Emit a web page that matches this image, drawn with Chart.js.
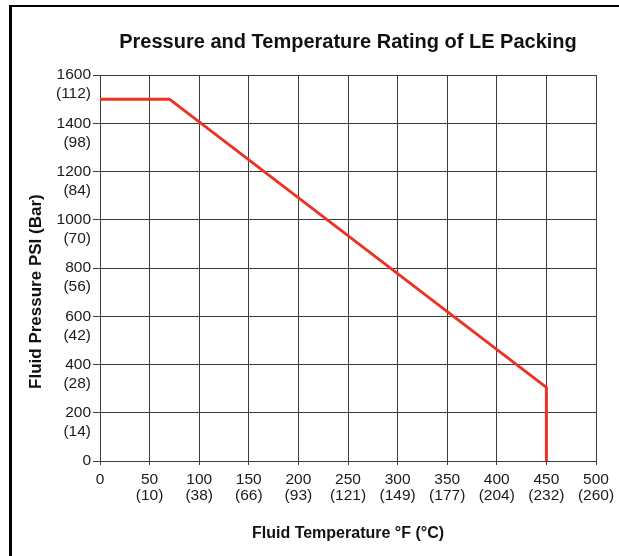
<!DOCTYPE html>
<html><head><meta charset="utf-8">
<script src="https://cdn.jsdelivr.net/npm/chart.js@4.4.1/dist/chart.umd.min.js"></script>
<style>
html,body{margin:0;padding:0;background:#fff;overflow:hidden;width:619px;height:556px;}
#frame{position:absolute;left:9px;top:5px;width:800px;height:800px;border-left:3px solid #000;border-top:2.5px solid #000;}
#wrap{position:absolute;left:0;top:0;width:619px;height:556px;}
</style></head><body>
<div id="frame"></div>
<div id="wrap"><canvas id="c" width="619" height="556"></canvas></div>
<script>
const chartTitle = 'Pressure and Temperature Rating of LE Packing';
const xAxisTitle = 'Fluid Temperature °F (°C)';
const yAxisTitle = 'Fluid Pressure PSI (Bar)';
const xTickF = [0, 50, 100, 150, 200, 250, 300, 350, 400, 450, 500];
const xTickC = ['', '(10)', '(38)', '(66)', '(93)', '(121)', '(149)', '(177)', '(204)', '(232)', '(260)'];
const yTickPSI = [0, 200, 400, 600, 800, 1000, 1200, 1400, 1600];
const yTickBar = ['', '(14)', '(28)', '(42)', '(56)', '(70)', '(84)', '(98)', '(112)'];
const ratingTempF = [0, 70, 450, 450];
const ratingPressurePSI = [1500, 1500, 305, 0];

const FAMILY = '"Liberation Sans", Arial, Helvetica, sans-serif';
const GRID = '#3c3c3c';

const points = ratingTempF.map((t, i) => ({x: t, y: ratingPressurePSI[i]}));

new Chart(document.getElementById('c'), {
  type: 'scatter',
  data: {
    datasets: [{
      data: points,
      showLine: true,
      borderColor: '#ec3224',
      backgroundColor: '#ec3224',
      borderWidth: 3,
      pointRadius: 0,
      pointHoverRadius: 0,
      tension: 0,
      fill: false
    }]
  },
  options: {
    responsive: false,
    animation: false,
    devicePixelRatio: 1,
    layout: {padding: {left: 12, right: 23, top: 0, bottom: 0}},
    plugins: {
      legend: {display: false},
      tooltip: {enabled: false},
      title: {
        display: true,
        text: chartTitle,
        fullSize: false,
        color: '#111',
        font: {family: FAMILY, size: 20, weight: 'bold', lineHeight: 1.2},
        padding: {top: 30, bottom: 21}
      }
    },
    scales: {
      x: {
        type: 'linear',
        position: 'bottom',
        min: 0, max: 500,
        afterBuildTicks: s => { s.ticks = xTickF.map(v => ({value: v})); },
        afterFit: s => { s.height = 95; s.paddingLeft = 0; s.paddingRight = 0; },
        grid: {color: GRID, lineWidth: 1, tickLength: 4, tickColor: GRID, drawTicks: true},
        border: {color: GRID, width: 1},
        ticks: {
          color: '#1a1a1a',
          padding: 7,
          maxRotation: 0,
          autoSkip: false,
          font: {family: FAMILY, size: 15.5, lineHeight: 1.03},
          callback: (value) => {
            const i = xTickF.indexOf(value);
            if (i < 0) return '';
            return xTickC[i] ? [String(xTickF[i]), xTickC[i]] : String(xTickF[i]);
          }
        },
        title: {
          display: true,
          text: xAxisTitle,
          color: '#111',
          font: {family: FAMILY, size: 16, weight: 'bold', lineHeight: 1.2},
          padding: {top: 0, bottom: 13}
        }
      },
      y: {
        type: 'linear',
        position: 'left',
        min: 0, max: 1600,
        afterBuildTicks: s => { s.ticks = yTickPSI.map(v => ({value: v})); },
        afterFit: s => { s.width = 88; },
        grid: {color: GRID, lineWidth: 1, tickLength: 7, tickColor: GRID, drawTicks: true},
        border: {color: GRID, width: 1},
        ticks: {
          color: '#1a1a1a',
          padding: 2,
          autoSkip: false,
          font: {family: FAMILY, size: 15.5, lineHeight: 19 / 15.5},
          callback: (value) => {
            const i = yTickPSI.indexOf(value);
            if (i < 0) return '';
            return yTickBar[i] ? ['', String(yTickPSI[i]), yTickBar[i]] : String(yTickPSI[i]);
          }
        },
        title: {
          display: true,
          text: yAxisTitle + '          ',
          color: '#111',
          font: {family: FAMILY, size: 17, weight: 'bold', lineHeight: 1.2},
          padding: {top: 14, bottom: 0}
        }
      }
    }
  }
});
</script>
</body></html>
